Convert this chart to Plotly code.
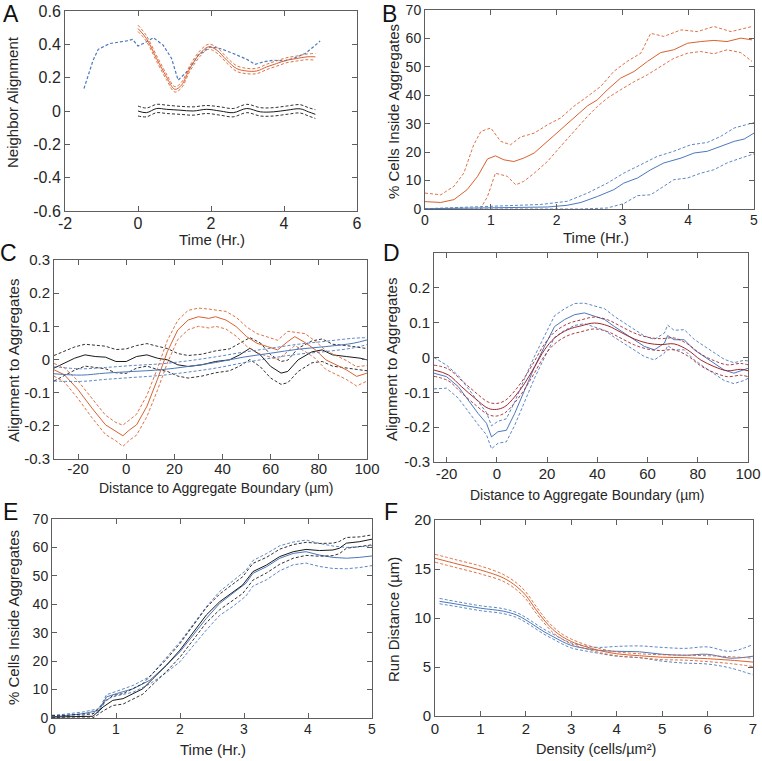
import plotly.graph_objects as go

# ---------------- data ----------------
# Panel A: neighbor alignment vs time
a_blue_t = [-1.48, -1.23, -1.09, -0.77, -0.32, -0.15, 0.0, 0.19, 0.42, 0.69, 0.92, 1.1, 1.38, 1.65,
            1.97, 2.25, 2.61, 2.98, 3.21, 3.44, 3.71, 3.99, 4.26, 4.58, 4.81, 4.99]
a_blue = [0.135, 0.305, 0.37, 0.405, 0.42, 0.43, 0.39, 0.41, 0.44, 0.395, 0.315, 0.185, 0.245, 0.335,
          0.385, 0.375, 0.345, 0.31, 0.28, 0.295, 0.305, 0.3, 0.315, 0.345, 0.385, 0.42]

a_orange_t = [0.0, 0.23, 0.51, 0.78, 1.01, 1.19, 1.42, 1.7, 1.93, 2.16, 2.43, 2.7, 2.98, 3.25, 3.53,
              3.8, 4.08, 4.35, 4.63, 4.86]
a_orange = [0.495, 0.435, 0.315, 0.205, 0.13, 0.155, 0.255, 0.345, 0.385, 0.365, 0.305, 0.255, 0.24,
            0.24, 0.265, 0.285, 0.305, 0.315, 0.325, 0.325]
a_orange_hi = [0.515, 0.452, 0.332, 0.222, 0.146, 0.172, 0.272, 0.362, 0.4, 0.382, 0.322, 0.272, 0.256,
               0.256, 0.281, 0.301, 0.32, 0.33, 0.342, 0.345]
a_orange_lo = [0.477, 0.418, 0.298, 0.188, 0.114, 0.138, 0.238, 0.328, 0.37, 0.348, 0.288, 0.238, 0.224,
               0.224, 0.249, 0.269, 0.29, 0.3, 0.308, 0.305]

a_black_t = [0, 0.23, 0.51, 0.78, 1.15, 1.51, 1.88, 2.25, 2.61, 2.98, 3.35, 3.71, 4.08, 4.44, 4.67, 4.86]
a_black = [0.0, -0.01, 0.015, 0.01, 0.005, 0.0, 0.01, 0.0, -0.01, 0.015, -0.005, -0.005, 0.005, 0.013,
           -0.005, -0.02]
a_black_hi = [0.03, 0.018, 0.04, 0.035, 0.028, 0.025, 0.033, 0.025, 0.015, 0.04, 0.02, 0.02, 0.03, 0.038,
              0.02, 0.008]
a_black_lo = [-0.03, -0.035, -0.01, -0.015, -0.02, -0.025, -0.015, -0.025, -0.035, -0.01, -0.03, -0.03,
              -0.02, -0.012, -0.03, -0.045]

# Panel B: % cells inside aggregates vs time
b_orange_t = [0, 0.24, 0.44, 0.64, 0.8, 0.95, 1.07, 1.2, 1.35, 1.5, 1.66, 1.86, 2.06, 2.26, 2.47, 2.62,
              2.77, 2.97, 3.18, 3.38, 3.58, 3.78, 3.99, 4.19, 4.39, 4.59, 4.8, 4.97]
b_orange = [2.6, 2.3, 3.3, 6.8, 11.5, 17.6, 18.7, 17.3, 16.7, 17.9, 19.7, 23.8, 27.9, 32, 36.3, 38.4,
            41.9, 46, 48.4, 51.9, 55, 56, 58.3, 58.9, 59.3, 58.9, 60.1, 59.5]
b_orange_hi_t = [0, 0.24, 0.44, 0.59, 0.74, 0.85, 1.0, 1.15, 1.3, 1.45, 1.66, 1.86, 2.06, 2.26, 2.47,
                 2.67, 2.87, 3.07, 3.28, 3.43, 3.63, 3.89, 4.14, 4.39, 4.65, 4.97]
b_orange_hi = [5.6, 5, 8, 12.6, 22.6, 27.3, 28.5, 23.8, 22.6, 25.3, 26.7, 29.6, 32, 36.1, 39.6, 43.1,
               48.4, 51.9, 54.8, 61.8, 60.7, 63, 62.4, 64.2, 62.4, 64.2]
b_orange_lo_t = [0.84, 0.95, 1.07, 1.25, 1.38, 1.5, 1.66, 1.86, 2.06, 2.26, 2.47, 2.62, 2.77, 2.97, 3.18,
                 3.38, 3.58, 3.78, 3.99, 4.19, 4.39, 4.59, 4.8, 4.97]
b_orange_lo = [0, 4.4, 12.6, 11.5, 8.5, 9.7, 12.6, 16.7, 22, 27.3, 32.6, 36.1, 39, 41.9, 44.8, 47.2,
               50.1, 53, 54.8, 55.4, 54.6, 56, 55, 51.9]

b_blue_t = [0, 1.35, 1.86, 2.16, 2.37, 2.62, 2.87, 3.02, 3.23, 3.43, 3.63, 3.89, 4.09, 4.29, 4.49, 4.7,
            4.85, 5.0]
b_blue = [0.1, 0.35, 0.7, 1.3, 2.3, 4.4, 6.8, 9.1, 10.9, 13.8, 16.2, 17.9, 19.7, 20.3, 22, 23.8, 24.6, 26.7]
b_blue_hi_t = [0, 1.1, 1.76, 2.16, 2.47, 2.77, 3.02, 3.28, 3.53, 3.78, 4.04, 4.29, 4.49, 4.7, 5.0]
b_blue_hi = [0.1, 0.9, 1.6, 2.7, 5.6, 9.1, 12.6, 15.6, 18.5, 20.3, 22.6, 23.4, 25.5, 28.5, 30.4]
b_blue_lo_t = [0, 2.37, 2.77, 3.02, 3.23, 3.43, 3.63, 3.78, 3.99, 4.19, 4.39, 4.59, 4.8, 5.0]
b_blue_lo = [0, 0, 0.35, 1.9, 4.7, 5, 8, 10.3, 10.9, 12.6, 13.8, 16.2, 17.9, 19.4]

# Panel C: alignment to aggregates vs distance
c_orange_d = [-30, -25.7, -20, -14.3, -8.6, -4.3, -1.4, 1.4, 4.3, 8.6, 12.9, 17.1, 21.4, 25.7, 30, 34.3,
              37.1, 41.4, 45.7, 50, 54.3, 58.6, 62.9, 67.1, 70, 74.3, 78.6, 82.9, 87.1, 91.4, 95.7, 100]
c_orange = [-0.031, -0.046, -0.091, -0.146, -0.197, -0.217, -0.23, -0.212, -0.197, -0.141, -0.061, 0.024,
            0.089, 0.119, 0.129, 0.124, 0.129, 0.119, 0.099, 0.069, 0.049, 0.039, 0.029, 0.054, 0.069,
            0.051, 0.029, -0.001, -0.016, -0.031, -0.051, -0.041]
c_orange_hi = [-0.012, -0.025, -0.065, -0.118, -0.168, -0.19, -0.198, -0.182, -0.165, -0.108, -0.028,
               0.058, 0.118, 0.148, 0.155, 0.152, 0.15, 0.145, 0.127, 0.098, 0.078, 0.068, 0.058, 0.085,
               0.082, 0.078, 0.055, 0.027, 0.012, -0.003, -0.022, -0.018]
c_orange_lo = [-0.05, -0.068, -0.118, -0.175, -0.226, -0.245, -0.262, -0.243, -0.228, -0.172, -0.094,
               -0.01, 0.06, 0.09, 0.1, 0.095, 0.1, 0.092, 0.07, 0.04, 0.02, 0.01, 0.0, 0.024, 0.042, 0.024,
               0.003, -0.03, -0.045, -0.06, -0.08, -0.065]

c_black_d = [-30, -25.7, -21.4, -17.1, -12.9, -8.6, -4.3, 0, 4.3, 8.6, 12.9, 17.1, 21.4, 25.7, 31.4,
             37.1, 42.9, 47.1, 51.4, 55.7, 60, 64.3, 67.1, 71.4, 77.1, 81.4, 85.7, 91.4, 97.1, 100]
c_black = [-0.026, -0.011, 0.004, 0.014, 0.009, 0.007, -0.006, -0.006, 0.009, 0.014, 0.004, -0.001,
           -0.016, -0.021, -0.016, -0.006, -0.001, 0.014, 0.034, 0.014, -0.021, -0.041, -0.036, -0.001,
           0.023, 0.029, 0.014, 0.009, 0.004, -0.001]
c_black_hi = [0.012, 0.024, 0.038, 0.046, 0.043, 0.04, 0.03, 0.032, 0.042, 0.048, 0.04, 0.033, 0.018,
              0.012, 0.016, 0.026, 0.032, 0.048, 0.066, 0.05, 0.014, -0.006, -0.002, 0.034, 0.056, 0.062,
              0.046, 0.042, 0.036, 0.033]
c_black_lo = [-0.065, -0.048, -0.032, -0.02, -0.025, -0.028, -0.04, -0.042, -0.026, -0.02, -0.03, -0.036,
              -0.05, -0.056, -0.05, -0.04, -0.034, -0.02, 0.0, -0.022, -0.056, -0.075, -0.07, -0.036,
              -0.01, -0.006, -0.02, -0.026, -0.03, -0.034]

c_blue_d = [-30, -18.6, -8.6, 2.9, 14.3, 25.7, 37.1, 48.6, 60, 71.4, 82.9, 94.3, 100]
c_blue = [-0.043, -0.047, -0.041, -0.036, -0.031, -0.021, -0.009, 0.007, 0.019, 0.031, 0.039, 0.049, 0.059]
c_blue_hi = [-0.022, -0.028, -0.024, -0.018, -0.013, -0.004, 0.008, 0.022, 0.034, 0.046, 0.055, 0.064, 0.066]
c_blue_lo = [-0.065, -0.066, -0.06, -0.054, -0.048, -0.038, -0.026, -0.01, 0.004, 0.016, 0.024, 0.035, 0.045]

# Panel D: alignment to aggregates vs distance
d_blue_d = [-25, -20, -15.3, -11.4, -7.4, -4.1, -2.1, 0.5, 3.8, 7.1, 11.1, 15.1, 19, 23, 27, 31, 34.9,
            38.9, 42.9, 46.8, 50.8, 54.8, 58.7, 62.7, 66.7, 68, 70.6, 74.6, 78.6, 82.5, 86.5, 90.5, 94.4,
            98.4, 100]
d_blue = [-0.045, -0.055, -0.084, -0.122, -0.161, -0.189, -0.228, -0.213, -0.209, -0.161, -0.093, -0.026,
          0.032, 0.089, 0.109, 0.123, 0.128, 0.118, 0.109, 0.089, 0.07, 0.051, 0.032, 0.022, 0.041, 0.063,
          0.051, 0.051, 0.022, 0.003, -0.016, -0.036, -0.045, -0.036, -0.031]
d_blue_hi = [0.0, -0.022, -0.052, -0.09, -0.128, -0.158, -0.196, -0.183, -0.176, -0.128, -0.06, 0.005,
             0.062, 0.12, 0.14, 0.155, 0.156, 0.148, 0.14, 0.118, 0.1, 0.08, 0.062, 0.052, 0.07, 0.093,
             0.078, 0.08, 0.052, 0.033, 0.015, -0.005, -0.015, -0.008, -0.01]
d_blue_lo = [-0.09, -0.088, -0.117, -0.155, -0.193, -0.222, -0.262, -0.246, -0.242, -0.195, -0.126,
             -0.058, 0.0, 0.058, 0.078, 0.092, 0.097, 0.088, 0.078, 0.058, 0.04, 0.022, 0.003, -0.007,
             0.012, 0.034, 0.022, 0.022, -0.007, -0.027, -0.046, -0.066, -0.075, -0.066, -0.06]

d_red_d = [-25, -19.3, -14, -8.7, -3.4, -0.1, 3.2, 7.1, 11.1, 15.1, 19, 23, 28.3, 33.6, 38.9, 44.2, 49.5,
           54.8, 60.1, 65.3, 70.6, 75.9, 81.2, 86.5, 91.8, 97.1, 100]
d_red = [-0.036, -0.05, -0.084, -0.117, -0.146, -0.149, -0.141, -0.113, -0.074, -0.026, 0.022, 0.056,
         0.08, 0.091, 0.099, 0.091, 0.072, 0.053, 0.041, 0.037, 0.039, 0.022, -0.007, -0.026, -0.038,
         -0.034, -0.038]
d_red_hi = [-0.022, -0.033, -0.066, -0.099, -0.128, -0.132, -0.124, -0.096, -0.057, -0.009, 0.039, 0.073,
            0.097, 0.108, 0.116, 0.108, 0.089, 0.07, 0.058, 0.054, 0.056, 0.039, 0.01, -0.009, -0.021,
            -0.017, -0.021]
d_red_lo = [-0.054, -0.067, -0.102, -0.135, -0.164, -0.168, -0.159, -0.13, -0.091, -0.043, 0.005, 0.039,
            0.063, 0.074, 0.082, 0.074, 0.055, 0.036, 0.024, 0.02, 0.022, 0.005, -0.024, -0.043, -0.055,
            -0.051, -0.055]

# Panel E: % cells inside aggregates vs time
e_black_t = [0, 0.22, 0.48, 0.64, 0.8, 0.95, 1.11, 1.27, 1.42, 1.58, 1.79, 2.0, 2.2, 2.41, 2.62, 2.83,
             2.98, 3.14, 3.35, 3.56, 3.77, 3.97, 4.18, 4.39, 4.49, 4.6, 4.8, 5.0]
e_black = [0.35, 0.35, 0.6, 0.6, 3.9, 6.2, 6.8, 8.6, 10.3, 13.9, 18.6, 23.9, 29.7, 36.2, 40.9, 44.4, 46.8,
           51.5, 53.8, 56.8, 58.5, 59.3, 58.9, 59.1, 59.7, 61.5, 62, 62.9]
e_black_hi = [0.95, 0.95, 1.4, 1.4, 5.2, 7.9, 8.6, 10.4, 12.1, 15.8, 20.7, 26.2, 32.2, 38.8, 43.6, 47.2,
              49.7, 54.4, 56.5, 59.4, 61.0, 61.8, 61.4, 61.5, 62.1, 63.5, 63.7, 64.4]
e_black_lo = [0.0, 0.0, 0.0, 0.0, 2.5, 4.4, 4.9, 6.7, 8.4, 11.9, 16.4, 21.4, 27.1, 33.5, 38.1, 41.5, 43.8,
              48.5, 51.0, 54.1, 56.2, 57.2, 56.9, 57.1, 57.8, 59.7, 60.2, 60.9]

e_blue_t = [0, 0.48, 0.74, 0.85, 1.01, 1.27, 1.53, 1.79, 2.0, 2.2, 2.41, 2.62, 2.83, 3.03, 3.14, 3.35,
            3.56, 3.77, 3.97, 4.18, 4.39, 4.6, 4.8, 5.0]
e_blue = [0.35, 1.5, 2.7, 7.4, 8.6, 10.3, 13.3, 18.6, 23.3, 29.1, 35, 40.3, 43.8, 47.4, 50.9, 53.2, 56.2,
          57.9, 58.5, 57.3, 56.5, 56.2, 56.5, 57]
e_blue_hi = [0.8, 2.1, 3.3, 8.2, 9.4, 11.5, 14.6, 21.2, 26.8, 32.8, 39.1, 44.5, 48.3, 51.9, 55.4, 57.8,
             60.6, 61.9, 62.6, 61.4, 60.5, 60.0, 60.2, 60.6]
e_blue_lo = [0.0, 0.9, 2.1, 6.6, 7.8, 9.1, 12.0, 16.0, 19.8, 25.4, 30.9, 36.1, 39.3, 42.9, 46.4, 48.6,
             51.8, 53.9, 54.5, 53.3, 52.6, 52.5, 52.9, 53.6]

# Panel F: run distance vs density
f_orange_x = [0, 0.5, 1, 1.5, 1.8, 2.0, 2.2, 2.4, 2.6, 2.8, 3.0, 3.3, 3.6, 4.0, 4.5, 5.0, 5.5, 6.0, 6.5, 7.0]
f_orange = [16.1, 15.5, 14.9, 14.1, 13.2, 12.3, 11.0, 9.8, 8.8, 8.1, 7.6, 7.1, 6.7, 6.35, 6.15, 6.0, 5.95,
            5.85, 5.7, 5.5]
f_orange_hi = [16.5, 15.9, 15.3, 14.45, 13.55, 12.65, 11.35, 10.1, 9.1, 8.35, 7.85, 7.3, 6.9, 6.55, 6.35,
               6.25, 6.2, 6.15, 6.05, 5.9]
f_orange_lo = [15.7, 15.1, 14.5, 13.75, 12.85, 11.95, 10.65, 9.5, 8.5, 7.85, 7.35, 6.9, 6.5, 6.15, 5.95,
               5.75, 5.7, 5.55, 5.35, 5.05]

f_blue_x = [0.1, 0.5, 1, 1.5, 1.8, 2.0, 2.2, 2.4, 2.6, 2.8, 3.0, 3.3, 3.6, 4.0, 4.5, 5.0, 5.5, 6.0, 6.5, 7.0]
f_blue = [11.7, 11.4, 11.0, 10.7, 10.3, 9.8, 9.2, 8.6, 8.1, 7.6, 7.2, 6.9, 6.7, 6.6, 6.55, 6.3, 6.2, 6.3,
          5.9, 6.1]
f_blue_hi = [12.0, 11.65, 11.25, 10.95, 10.55, 10.05, 9.45, 8.85, 8.35, 7.85, 7.45, 7.15, 7.0, 7.1, 7.15,
             7.0, 6.9, 7.05, 6.6, 7.3]
f_blue_lo = [11.45, 11.15, 10.75, 10.45, 10.05, 9.55, 8.95, 8.35, 7.85, 7.35, 6.95, 6.65, 6.4, 6.1, 5.95,
             5.6, 5.4, 5.3, 4.9, 4.2]

# tick labels
a_xticks = [-2, 0, 2, 4, 6]
a_yticks = [-0.6, -0.4, -0.2, 0, 0.2, 0.4, 0.6]
a_ytext = ["-0.6", "-0.4", "-0.2", "0", "0.2", "0.4", "0.6"]
time_ticks = [0, 1, 2, 3, 4, 5]
pct_ticks = [0, 10, 20, 30, 40, 50, 60, 70]
dist_ticks = [-20, 0, 20, 40, 60, 80, 100]
c_yticks = [-0.3, -0.2, -0.1, 0, 0.1, 0.2, 0.3]
c_ytext = ["-0.3", "-0.2", "-0.1", "0", "0.1", "0.2", "0.3"]
d_yticks = [-0.3, -0.2, -0.1, 0, 0.1, 0.2]
d_ytext = ["-0.3", "-0.2", "-0.1", "0", "0.1", "0.2"]
f_xticks = [0, 1, 2, 3, 4, 5, 6, 7]
f_yticks = [0, 5, 10, 15, 20]

# ---------------- styling ----------------
W, H = 762, 761
ORANGE = "#d9612f"
BLUE = "#4a78bd"
BLACK = "#1a1a1a"
DARKRED = "#a3262b"
AXIS = "#5e5e5e"
TXT = "#262626"
FONT = "Liberation Sans, Arial, sans-serif"
DASH = "3px,2px"


def px(x):
    return x / W


def py(y):
    return 1 - y / H


fig = go.Figure()


def line(ax, x, y, color, dash=None, width=1.0, shape="linear"):
    fig.add_trace(go.Scatter(
        x=x, y=y, mode="lines", xaxis="x" + ax, yaxis="y" + ax,
        line=dict(color=color, width=width, dash=dash, shape=shape),
        showlegend=False, hoverinfo="skip",
    ))


def band(ax, x, y, hi, lo, color, xhi=None, xlo=None, shape="linear"):
    line(ax, x, y, color, shape=shape)
    line(ax, xhi or x, hi, color, DASH, 0.9, shape)
    line(ax, xlo or x, lo, color, DASH, 0.9, shape)


# A
line("", a_blue_t, a_blue, BLUE, DASH, 1.2)
band("", a_orange_t, a_orange, a_orange_hi, a_orange_lo, ORANGE, shape="spline")
band("", a_black_t, a_black, a_black_hi, a_black_lo, BLACK, shape="spline")
# B
band("2", b_orange_t, b_orange, b_orange_hi, b_orange_lo, ORANGE, xhi=b_orange_hi_t, xlo=b_orange_lo_t)
band("2", b_blue_t, b_blue, b_blue_hi, b_blue_lo, BLUE, xhi=b_blue_hi_t, xlo=b_blue_lo_t)
# C
band("3", c_black_d, c_black, c_black_hi, c_black_lo, BLACK)
band("3", c_orange_d, c_orange, c_orange_hi, c_orange_lo, ORANGE)
band("3", c_blue_d, c_blue, c_blue_hi, c_blue_lo, BLUE, shape="spline")
# D
band("4", d_blue_d, d_blue, d_blue_hi, d_blue_lo, BLUE)
band("4", d_red_d, d_red, d_red_hi, d_red_lo, DARKRED, shape="spline")
# E
band("5", e_blue_t, e_blue, e_blue_hi, e_blue_lo, BLUE)
band("5", e_black_t, e_black, e_black_hi, e_black_lo, BLACK)
# F
band("6", f_blue_x, f_blue, f_blue_hi, f_blue_lo, BLUE, shape="spline")
band("6", f_orange_x, f_orange, f_orange_hi, f_orange_lo, ORANGE, shape="spline")


def axis(box_lo, box_hi, rng, vals, text, size, horizontal, standoff=0):
    dom = [px(box_lo), px(box_hi)] if horizontal else [py(box_hi), py(box_lo)]
    return dict(
        domain=dom, range=rng, tickvals=vals, ticktext=text or [str(v) for v in vals],
        showline=True, linecolor=AXIS, linewidth=1, mirror="ticks",
        ticks="inside", ticklen=5, tickcolor=AXIS, tickwidth=1,
        showgrid=False, zeroline=False, fixedrange=True, automargin=False,
        ticklabelstandoff=standoff,
        tickfont=dict(family=FONT, size=size, color=TXT),
    )


# panel boxes in pixels: (left, right, top, bottom)
boxes = {
    "": (65, 357, 11, 211),
    "2": (425, 754, 10, 209),
    "3": (54, 367, 260, 459),
    "4": (434, 748, 253, 462),
    "5": (52, 372, 519, 718),
    "6": (435, 753, 520, 716),
}
specs = {
    "": ([-2, 6], a_xticks, None, [-0.6, 0.6], a_yticks, a_ytext, 16, -2),
    "2": ([0, 5], time_ticks, None, [0, 70], pct_ticks, None, 14, -2),
    "3": ([-30, 100], dist_ticks, None, [-0.3, 0.3], c_yticks, c_ytext, 15, -4),
    "4": ([-25, 100], dist_ticks, None, [-0.3, 0.3], d_yticks, d_ytext, 15, -2),
    "5": ([0, 5], time_ticks, None, [0, 70], pct_ticks, None, 14, -2),
    "6": ([0, 7], f_xticks, None, [0, 20], f_yticks, None, 15, -1),
}
layout_axes = {}
for key, (l, r, t, b) in boxes.items():
    xr, xv, xt, yr, yv, yt, fs, so = specs[key]
    xa = axis(l, r, xr, xv, xt, fs, True, so)
    ya = axis(t, b, yr, yv, yt, fs, False)
    xa["anchor"] = "y" + key
    ya["anchor"] = "x" + key
    layout_axes["xaxis" + key] = xa
    layout_axes["yaxis" + key] = ya

# axis titles and panel letters as annotations (pixel positions)
titles = [
    ("Neighbor Alignment", 12, 102, -90, 15),
    ("Time (Hr.)", 212, 240, 0, 15),
    ("% Cells Inside Aggregates", 393, 112, -90, 15),
    ("Time (Hr.)", 596, 237, 0, 15),
    ("Alignment to Aggregates", 13, 361, -90, 15),
    ("Distance to Aggregate Boundary (µm)", 216, 488, 0, 14),
    ("Alignment to Aggregates", 391, 360, -90, 15),
    ("Distance to Aggregate Boundary (µm)", 587, 495, 0, 14),
    ("% Cells Inside Aggregates", 13, 618, -90, 15),
    ("Time (Hr.)", 213, 749, 0, 15),
    ("Run Distance (µm)", 393, 620, -90, 15),
    ("Density (cells/µm²)", 596, 749, 0, 14.5),
]
letters = [("A", 11, 14), ("B", 389, 14), ("C", 8, 253), ("D", 391, 253), ("E", 10, 512), ("F", 391, 512)]

annotations = []
for text, x, y, ang, size in titles:
    annotations.append(dict(
        text=text, x=px(x), y=py(y), xref="paper", yref="paper", showarrow=False,
        textangle=ang, xanchor="center", yanchor="middle",
        font=dict(family=FONT, size=size, color=TXT),
    ))
for text, x, y in letters:
    annotations.append(dict(
        text=text, x=px(x), y=py(y), xref="paper", yref="paper", showarrow=False,
        xanchor="center", yanchor="middle",
        font=dict(family=FONT, size=23, color="#111"),
    ))

fig.update_layout(
    width=W, height=H,
    margin=dict(l=0, r=0, t=0, b=0),
    paper_bgcolor="white", plot_bgcolor="white",
    showlegend=False,
    annotations=annotations,
    **layout_axes,
)

# the page's default body margin would push the figure 8px off the window
fig.write_html(
    "out.html",
    config={"displayModeBar": False},
    post_script="document.body.style.margin='0';",
)
